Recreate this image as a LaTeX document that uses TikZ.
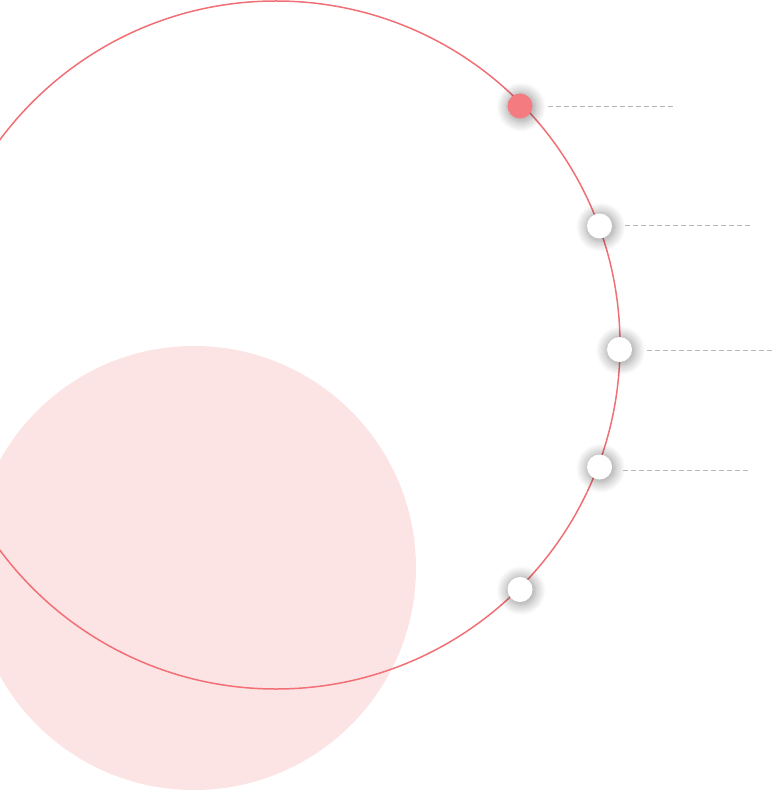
\documentclass[tikz,border=0pt]{standalone}
\usetikzlibrary{shadows.blur}
\definecolor{ringred}{HTML}{F07076}
\definecolor{dotred}{HTML}{F47B80}
\definecolor{softpink}{HTML}{FCE3E4}
\definecolor{leadgray}{HTML}{B8B8B8}
\tikzset{
  dotbase/.style={circle, minimum size=25pt, inner sep=0pt,
    blur shadow={shadow xshift=1pt, shadow yshift=-1pt, shadow blur radius=9pt, shadow blur steps=12, shadow opacity=40, shadow scale=1.15}},
  reddot/.style={dotbase, fill=dotred},
  whitedot/.style={dotbase, fill=white},
  leader/.style={draw=leadgray, line width=0.9pt, dash pattern=on 5pt off 3pt},
  ring/.style={draw=ringred, line width=1.5pt}
}
\begin{document}
\begin{tikzpicture}[x=1pt,y=-1pt]
\useasboundingbox (0,0) rectangle (774,791);
\begin{scope}
\clip (0,0) rectangle (774,791);
\fill[softpink] (194,568) circle[radius=222];
\draw[ring] (276,345) circle[radius=344];
\end{scope}
\node[reddot] (d1) at (520,106) {};
\node[whitedot] (d2) at (599.5,226) {};
\node[whitedot] (d3) at (619.5,349.5) {};
\node[whitedot] (d4) at (599.5,467) {};
\node[whitedot] (d5) at (520,589.5) {};
\coordinate (a1) at (548,106);   \coordinate (b1) at (676,106);
\coordinate (a2) at (625,225);   \coordinate (b2) at (752,225);
\coordinate (a3) at (647,350);   \coordinate (b3) at (774,350);
\coordinate (a4) at (623,470);   \coordinate (b4) at (750,470);
\draw[leader] (a1) -- (b1);
\draw[leader] (a2) -- (b2);
\draw[leader] (a3) -- (b3);
\draw[leader] (a4) -- (b4);
\end{tikzpicture}
\end{document}
